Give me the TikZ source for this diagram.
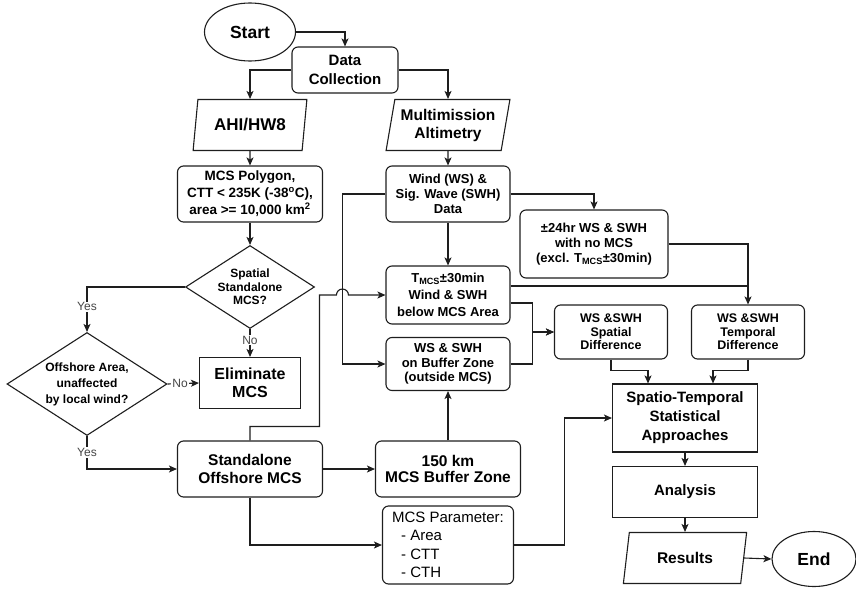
\documentclass[tikz,border=0pt]{standalone}
\usepackage{fontspec}
\setmainfont{Liberation Sans}
\usetikzlibrary{arrows.meta,positioning,shapes.geometric,calc}
\definecolor{flowline}{RGB}{30,30,30}
\definecolor{flowlabel}{RGB}{70,70,70}
\tikzset{
 box/.style={rectangle,rounded corners=6pt,draw=flowline,line width=1.1pt,fill=white,align=center,inner sep=2pt,font=\fontsize{13}{15}\selectfont\bfseries},
 sqbox/.style={box,sharp corners},
 io/.style={trapezium,trapezium left angle=77,trapezium right angle=103,trapezium stretches=true,draw=flowline,line width=1.1pt,fill=white,align=center,inner sep=1pt,font=\fontsize{15.5}{18}\selectfont\bfseries},
 term/.style={ellipse,draw=flowline,line width=1.1pt,fill=white,inner sep=1pt,font=\fontsize{17.5}{20}\selectfont\bfseries},
 decision/.style={diamond,aspect=1.55,draw=flowline,line width=1.1pt,fill=white,align=center,inner sep=0pt,font=\fontsize{12}{13.5}\selectfont\bfseries},
 arrow/.style={-{Stealth[length=8pt,width=7pt,inset=2pt]},line width=1.1pt,draw=flowline},
 line/.style={line width=1.1pt,draw=flowline},
 lbl/.style={fill=white,inner sep=1pt,text=flowlabel,font=\fontsize{12}{14}\selectfont}}
\begin{document}
\begin{tikzpicture}[x=1pt,y=-1pt]
\useasboundingbox (0,0) rectangle (856,589);
% left column
\node[term,minimum width=91pt,minimum height=58pt] (start) at (250,32) {Start};
\node[box,minimum width=106pt,minimum height=46pt,font=\fontsize{15}{19}\selectfont\bfseries] (datacol) at (345,70) {Data\\Collection};
\node[io,minimum width=114pt,minimum height=51pt,font=\fontsize{17}{20}\selectfont\bfseries] (ahi) at (250,125) {AHI/HW8};
\node[box,minimum width=145pt,minimum height=56pt,font=\fontsize{13.5}{17}\selectfont\bfseries] (mcspoly) at (250,194) {MCS Polygon,\\CTT < 235K (-38\textsuperscript{o}C),\\area >= 10,000 km\textsuperscript{2}};
\node[decision,minimum width=129pt,minimum height=83pt] (spatial) at (250,287) {Spatial\\Standalone\\MCS?};
\node[decision,minimum width=160pt,minimum height=103pt,font=\fontsize{12}{16}\selectfont\bfseries] (offshore) at (87,384) {Offshore Area,\\unaffected\\by local wind?};
\node[sqbox,minimum width=101pt,minimum height=51pt,font=\fontsize{16}{18}\selectfont\bfseries] (elim) at (250,383) {Eliminate\\MCS};
\node[box,minimum width=145pt,minimum height=56pt,font=\fontsize{15.5}{18}\selectfont\bfseries] (standalone) at (250,469) {Standalone\\Offshore MCS};
% middle column
\node[io,minimum width=124pt,minimum height=51pt] (multi) at (448,125) {Multimission\\Altimetry};
\node[box,minimum width=124pt,minimum height=56pt] (wind) at (448,194) {Wind (WS) \&\\Sig. Wave (SWH)\\Data};
\node[box,minimum width=124pt,minimum height=58pt,font=\fontsize{13}{17}\selectfont\bfseries] (tmcs) at (448,295) {T\textsubscript{MCS}±30min\\Wind \& SWH\\below MCS Area};
\node[box,minimum width=124pt,minimum height=53pt,font=\fontsize{13}{14.5}\selectfont\bfseries] (bufws) at (448,364) {WS \& SWH\\on Buffer Zone\\(outside MCS)};
\node[box,minimum width=145pt,minimum height=56pt,font=\fontsize{15.5}{16}\selectfont\bfseries] (buffer) at (448,469) {150 km\\MCS Buffer Zone};
\node[box,minimum width=131pt,minimum height=78pt,align=left,font=\fontsize{15}{18.5}\selectfont] (param) at (448,545) {MCS Parameter:\\\hspace*{9pt}- Area\\\hspace*{9pt}- CTT\\\hspace*{9pt}- CTH};
% right column
\node[box,minimum width=148pt,minimum height=68pt] (notmcs) at (594,244) {±24hr WS \& SWH\\with no MCS\\(excl. T\textsubscript{MCS}±30min)};
\node[box,minimum width=113pt,minimum height=54pt,font=\fontsize{12.5}{13.5}\selectfont\bfseries] (spdiff) at (611,332) {WS \&SWH\\Spatial\\Difference};
\node[box,minimum width=113pt,minimum height=54pt,font=\fontsize{12.5}{13.5}\selectfont\bfseries] (tmdiff) at (748,332) {WS \&SWH\\Temporal\\Difference};
\node[sqbox,minimum width=145pt,minimum height=68pt,font=\fontsize{15}{19}\selectfont\bfseries] (stat) at (685,418) {Spatio-Temporal\\Statistical\\Approaches};
\node[sqbox,minimum width=145pt,minimum height=51pt,font=\fontsize{15}{18}\selectfont\bfseries] (analysis) at (685,492) {Analysis};
\node[io,minimum width=124pt,minimum height=51pt] (results) at (685,558) {Results};
\node[term,minimum width=84pt,minimum height=55pt] (end) at (814,559) {End};
% connectors
\draw[arrow] (start.east) -| (datacol.north);
\draw[arrow] (datacol.west) -| (ahi.north);
\draw[arrow] (datacol.east) -| (multi.north);
\draw[arrow] (ahi) -- (mcspoly);
\draw[arrow] (multi) -- (wind);
\draw[arrow] (mcspoly) -- (spatial);
\draw[arrow] (spatial.west) -| node[lbl,pos=0.72]{Yes} (offshore.north);
\draw[arrow] (spatial.south) -- node[lbl,pos=0.4]{No} (elim.north);
\draw[arrow] (offshore.east) -- node[lbl,pos=0.4]{No} (elim.west);
\draw[arrow] (offshore.south) |- node[lbl,pos=0.25]{Yes} (standalone.west);
\draw[arrow] (standalone.north) -- ++(0,-14) -| ([xshift=-66pt]tmcs.west) -- ([xshift=-49pt]tmcs.west) arc[start angle=180,end angle=360,radius=6] -- (tmcs.west);
\draw[arrow] (wind.west) -- ++(-43,0) |- (bufws.west);
\draw[arrow] (wind) -- (tmcs);
\draw[arrow] (buffer) -- (bufws);
\draw[arrow] (standalone) -- (buffer);
\draw[arrow] (standalone.south) |- (param.west);
\draw[arrow] (param.east) -- ++(50,0) |- (stat.west);
\draw[arrow] (wind.east) -| (notmcs.north);
\draw[arrow] (notmcs.east) -| (tmdiff.north);
\coordinate (tup) at ([yshift=9pt]tmcs.east);
\coordinate (tdn) at ([yshift=-8pt]tmcs.east);
\draw[line] (tup) -- (tup -| tmdiff.north);
\draw[arrow] (tdn) -- ++(22,0) |- (spdiff.west);
\draw[arrow] (bufws.east) -- ++(22,0) |- (spdiff.west);
\draw[arrow] (spdiff.south) -- ++(0,11) -| ([xshift=-37pt]stat.north);
\draw[arrow] (tmdiff.south) -- ++(0,11) -| ([xshift=28pt]stat.north);
\draw[arrow] (stat) -- (analysis);
\draw[arrow] (analysis) -- (results);
\draw[arrow] (results.east) -- (end.west);
\end{tikzpicture}
\end{document}
